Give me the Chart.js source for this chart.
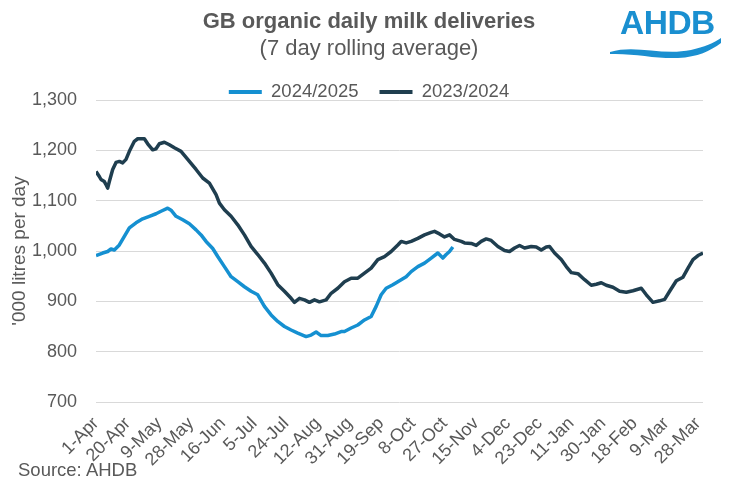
<!DOCTYPE html>
<html>
<head>
<meta charset="utf-8">
<script src="https://cdn.jsdelivr.net/npm/chart.js@4.4.1/dist/chart.umd.min.js"></script>
<style>
  body { margin: 0; background: #fff; }
  #wrap { position: relative; width: 730px; height: 501px; font-family: Arial, "Liberation Sans", sans-serif; }
  #source { position: absolute; left: 18px; top: 459px; font-size: 18.5px; color: #595959; }
  #logo { position: absolute; left: 606px; top: 4px; width: 124px; height: 60px; }
  #logo span { position: absolute; left: 14px; top: 0px; font-size: 33.5px; font-weight: bold; color: #1a8fd0; letter-spacing: -0.5px; }
  #logo svg { position: absolute; left: 0; top: 0; }
</style>
</head>
<body>
<div id="wrap">
  <canvas id="chart" width="730" height="501"></canvas>
  <div id="logo">
    <span>AHDB</span>
    <svg width="124" height="60" viewBox="0 0 124 60">
      <path d="M4,48 C30,40 55,52 85,46 C98,43 108,39 115,34 L115,39 C104,47 92,53 72,54 C50,55 28,49 4,50 Z" fill="#1a8fd0"/>
    </svg>
  </div>
  <div id="source">Source: AHDB</div>
</div>
<script>
// =====================================================
// DATA
// =====================================================
const tickLabels = ['1-Apr', '20-Apr', '9-May', '28-May', '16-Jun', '5-Jul', '24-Jul', '12-Aug',
  '31-Aug', '19-Sep', '8-Oct', '27-Oct', '15-Nov', '4-Dec', '23-Dec', '11-Jan', '30-Jan',
  '18-Feb', '9-Mar', '28-Mar'];
const tickStep = 19;

// day of the season (0 = 1 April)
const days2324 = [0, 2, 3, 5, 6, 7, 8, 10, 12, 14, 16, 18, 20, 23, 25, 29, 31, 34, 36, 38, 41, 44, 47,
  51, 55, 60, 64, 68, 72, 74, 77, 81, 85, 89, 93, 97, 101, 105, 109, 113, 117, 119, 122, 125, 128,
  131, 134, 138, 141, 145, 149, 153, 157, 161, 165, 169, 173, 177, 181, 183, 186, 189, 193, 197,
  201, 203, 206, 209, 212, 215, 219, 221, 225, 228, 231, 234, 237, 241, 245, 248, 251, 254, 257,
  261, 264, 267, 270, 272, 275, 279, 282, 285, 289, 293, 297, 300, 303, 306, 310, 314, 318, 322,
  327, 330, 334, 338, 341, 344, 348, 352, 355, 358, 361, 364];
const values2324 = [1158, 1148, 1142, 1138, 1132, 1125, 1138, 1162, 1176, 1178, 1175, 1182, 1198,
  1218, 1223, 1223, 1213, 1201, 1203, 1213, 1216, 1211, 1205, 1198, 1182, 1162, 1145, 1135, 1112,
  1095, 1082, 1069, 1052, 1032, 1009, 993, 976, 956, 933, 920, 906, 898, 906, 903, 898, 903, 899,
  903, 916, 926, 939, 946, 946, 956, 966, 983, 989, 999, 1012, 1019, 1016, 1019, 1025, 1032, 1037,
  1039, 1034, 1028, 1032, 1023, 1019, 1016, 1015, 1011, 1019, 1024, 1021, 1009, 1001, 999, 1006,
  1011, 1006, 1009, 1008, 1002, 1008, 1009, 996, 983, 969, 957, 955, 943, 932, 934, 937, 932, 928,
  920, 918, 921, 926, 913, 898, 901, 904, 920, 941, 948, 966, 983, 991, 996];

const days2425 = [0, 4, 7, 9, 11, 14, 17, 20, 24, 28, 32, 36, 39, 43, 45, 48, 52, 56, 60, 63, 66, 70,
  73, 77, 81, 85, 89, 93, 97, 101, 105, 109, 113, 117, 121, 126, 129, 132, 135, 139, 143, 147, 149,
  153, 157, 161, 165, 168, 171, 174, 178, 182, 186, 189, 193, 197, 201, 205, 208, 210, 212, 214];
const values2425 = [991, 996, 999, 1004, 1002, 1012, 1029, 1046, 1056, 1064, 1069, 1074, 1079, 1085,
  1081, 1069, 1062, 1054, 1042, 1032, 1019, 1005, 989, 969, 949, 939, 929, 920, 913, 890, 873, 860,
  850, 843, 837, 830, 833, 839, 832, 832, 835, 840, 840, 847, 853, 863, 870, 890, 913, 926, 933, 941,
  949, 959, 969, 976, 986, 996, 986, 993, 999, 1008];

// =====================================================
// CHART
// =====================================================
const FONT = 'Arial, "Liberation Sans", sans-serif';
const GREY = '#595959';
const BLUE = '#1590d1';
const NAVY = '#1f3e4f';

function toPoints(days, values) {
  return days.map((d, i) => ({ x: d, y: values[i] }));
}

new Chart(document.getElementById('chart'), {
  type: 'line',
  data: {
    datasets: [
      {
        label: '2024/2025',
        data: toPoints(days2425, values2425),
        borderColor: BLUE,
        backgroundColor: BLUE,
        borderWidth: 3.5,
        pointRadius: 0,
        tension: 0,
        borderJoinStyle: 'round'
      },
      {
        label: '2023/2024',
        data: toPoints(days2324, values2324),
        borderColor: NAVY,
        backgroundColor: NAVY,
        borderWidth: 3.5,
        pointRadius: 0,
        tension: 0,
        borderJoinStyle: 'round'
      }
    ]
  },
  options: {
    responsive: false,
    animation: false,
    devicePixelRatio: 1,
    layout: { padding: { top: 9, left: 8, right: 0, bottom: 0 } },
    plugins: {
      title: {
        display: true,
        text: 'GB organic daily milk deliveries',
        color: GREY,
        font: { family: FONT, size: 22, weight: 'bold' },
        padding: { top: 0, bottom: 0 }
      },
      subtitle: {
        display: true,
        text: '(7 day rolling average)',
        color: GREY,
        font: { family: FONT, size: 22, weight: 'normal' },
        padding: { top: 0, bottom: 0 }
      },
      legend: {
        display: true,
        maxHeight: 38.2,
        labels: {
          color: GREY,
          font: { family: FONT, size: 18.5 },
          boxWidth: 33,
          boxHeight: 4,
          padding: 21,
          generateLabels: (chart) =>
            Chart.defaults.plugins.legend.labels.generateLabels(chart).map(l => ({ ...l, lineWidth: 0 }))
        }
      },
      tooltip: { enabled: false }
    },
    scales: {
      x: {
        type: 'linear',
        min: 0,
        max: 364,
        grid: { display: false },
        border: { display: false },
        afterBuildTicks: (scale) => {
          scale.ticks = tickLabels.map((_, i) => ({ value: i * tickStep }));
        },
        afterFit: (scale) => { scale.height = 99; },
        ticks: {
          autoSkip: false,
          maxRotation: 45,
          minRotation: 45,
          padding: 3,
          color: GREY,
          font: { family: FONT, size: 18 },
          callback: (value, index) => tickLabels[index]
        }
      },
      y: {
        min: 700,
        max: 1300,
        afterFit: (scale) => { scale.width = 88; },
        grid: { color: '#d9d9d9', lineWidth: 1, drawTicks: false },
        border: { display: false },
        ticks: {
          stepSize: 100,
          padding: 19,
          color: GREY,
          font: { family: FONT, size: 18 }
        },
        title: {
          display: true,
          text: "'000 litres per day",
          color: GREY,
          font: { family: FONT, size: 19 },
          padding: { top: 0, bottom: 0 }
        }
      },
      yRight: {
        type: 'linear',
        position: 'right',
        display: true,
        grid: { display: false, drawTicks: false },
        border: { display: false },
        ticks: { display: false },
        afterFit: (scale) => { scale.width = 27; }
      }
    }
  }
});
</script>
</body>
</html>
